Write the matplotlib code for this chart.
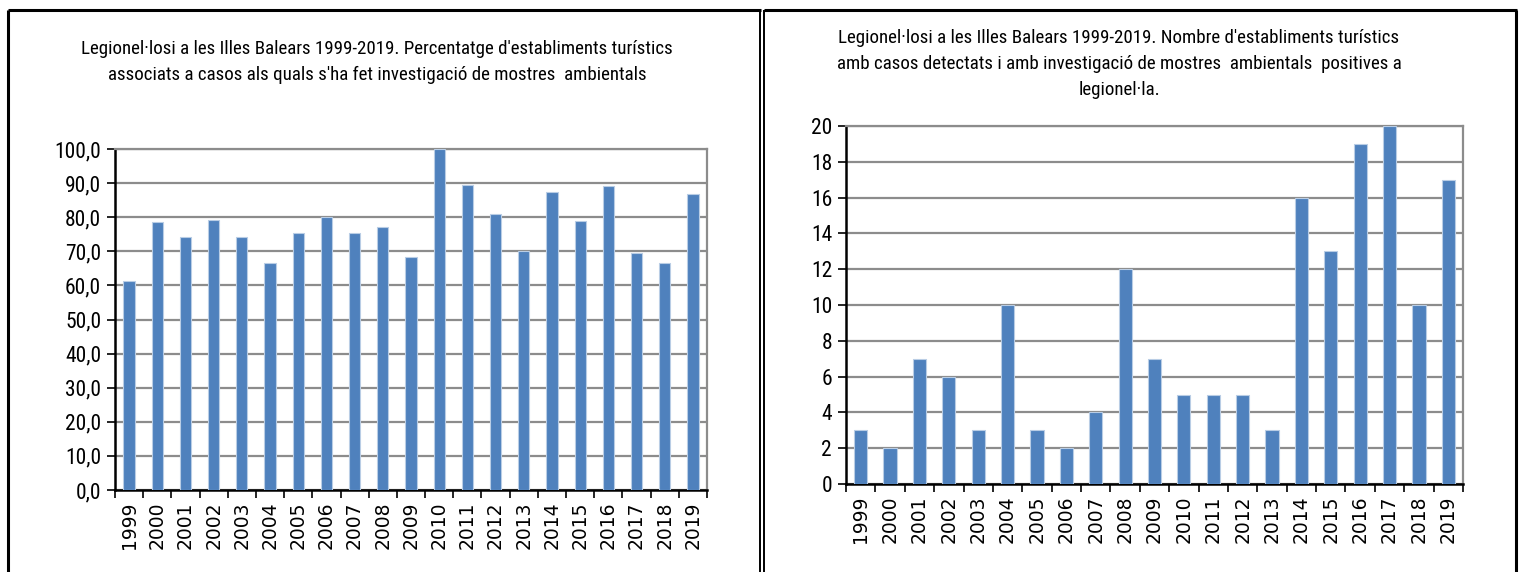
import matplotlib
matplotlib.use('Agg')
import matplotlib.pyplot as plt
from matplotlib import font_manager
from matplotlib.font_manager import FontProperties
from matplotlib.lines import Line2D
import numpy as np

# data
years = [str(y) for y in range(1999, 2020)]
pct_investigated = [61.3, 78.6, 74.2, 79.2, 74.2, 66.7, 75.4, 80.0, 75.4, 77.0, 68.4,
                    100.0, 89.5, 81.0, 70.0, 87.5, 78.9, 89.2, 69.6, 66.7, 86.9]
n_positive = [3, 2, 7, 6, 3, 10, 3, 2, 4, 12, 7, 5, 5, 5, 3, 16, 13, 19, 20, 10, 17]

title_left = ("Legionel\u00b7losi a les Illes Balears 1999-2019. Percentatge d'establiments tur\u00edstics\n"
              "associats a casos als quals s'ha fet investigaci\u00f3 de mostres  ambientals")
title_right = ("Legionel\u00b7losi a les Illes Balears 1999-2019. Nombre d'establiments tur\u00edstics\n"
               "amb casos detectats i amb investigaci\u00f3 de mostres  ambientals  positives a\n"
               "legionel\u00b7la.")

# the reference text is squeezed sideways, use a narrow/condensed face if one exists
narrow_file = None
for f in font_manager.fontManager.ttflist:
	fn = f.fname.lower()
	if ('narrow' in fn or 'condensed' in fn) and 'bold' not in fn and 'oblique' not in fn \
			and 'italic' not in fn:
		narrow_file = f.fname
		if 'liberation' in fn:
			break

plt.rcParams['font.family'] = ['Liberation Sans', 'DejaVu Sans']
if narrow_file:
	txt_font = FontProperties(fname=narrow_file)
	title_size, tick_size = 13.6, 15.5
else:
	txt_font = FontProperties(family='Liberation Sans')
	title_size, tick_size = 12, 13

BAR = '#4F81BD'
EDGE = '#B9CDE5'
GRID = '#8C8C8C'

W, H = 1522, 572
fig = plt.figure(figsize=(W / 100, H / 100), dpi=100)


def px_box(x0, y0, x1, y1):
	# pixel box -> figure fraction [left, bottom, width, height]
	return [x0 / W, 1 - y1 / H, (x1 - x0) / W, (y1 - y0) / H]


def bar_panel(ax, values, ymax, step, fmt, width):
	x = np.arange(len(years))
	ax.bar(x, values, width=width, color=BAR, edgecolor=EDGE, linewidth=0.8, zorder=3)
	ax.set_xlim(-0.5, len(years) - 0.5)
	ax.set_ylim(0, ymax)
	yt = np.arange(0, ymax + step / 2, step)
	ax.set_yticks(yt)
	ax.set_yticklabels([fmt(v) for v in yt], fontproperties=txt_font, fontsize=tick_size)
	ax.yaxis.grid(True, color=GRID, linewidth=1.6, zorder=0)
	ax.set_axisbelow(True)
	# year labels sit under the bars, tick marks between categories
	ax.set_xticks(x)
	ax.set_xticklabels(years, rotation=90, fontsize=13.5, family='DejaVu Sans')
	ax.tick_params(axis='x', length=0, pad=8)
	ax.set_xticks(np.arange(-0.5, len(years)), minor=True)
	ax.tick_params(axis='x', which='minor', length=6, width=1.2, direction='out')
	ax.tick_params(axis='y', length=6, width=1.2, direction='out', pad=4)
	for s in ['top', 'right']:
		ax.spines[s].set_color(GRID)
		ax.spines[s].set_linewidth(1.6)
	for s in ['left', 'bottom']:
		ax.spines[s].set_color('black')
		ax.spines[s].set_linewidth(1.8)


ax1 = fig.add_axes(px_box(115, 149, 707, 490))
bar_panel(ax1, pct_investigated, 100, 10, lambda v: f"{v:.1f}".replace('.', ','), 0.4)

ax2 = fig.add_axes(px_box(846, 126, 1463, 484))
bar_panel(ax2, n_positive, 20, 2, lambda v: f"{int(v)}", 0.45)

fig.text(377 / W, 1 - 62 / H, title_left, ha='center', va='center',
		 fontproperties=txt_font, fontsize=title_size, linespacing=1.58)
fig.text(1119 / W, 1 - 64 / H, title_right, ha='center', va='center',
		 fontproperties=txt_font, fontsize=title_size, linespacing=1.58)

# panel frames
def fline(xs, ys, lw=2.2, color='black'):
	fig.add_artist(Line2D([x / W for x in xs], [1 - y / H for y in ys], color=color,
						  lw=lw, solid_capstyle='butt'))

fline([8, 761], [10, 10])
fline([8, 8], [10, 572])
fline([760, 760], [10, 572], lw=1.4)
fline([764, 1517], [10, 10])
fline([764, 764], [10, 572], lw=1.4)
fline([1516, 1516], [10, 572], lw=2.2)

plt.savefig('out.png', dpi=100)
